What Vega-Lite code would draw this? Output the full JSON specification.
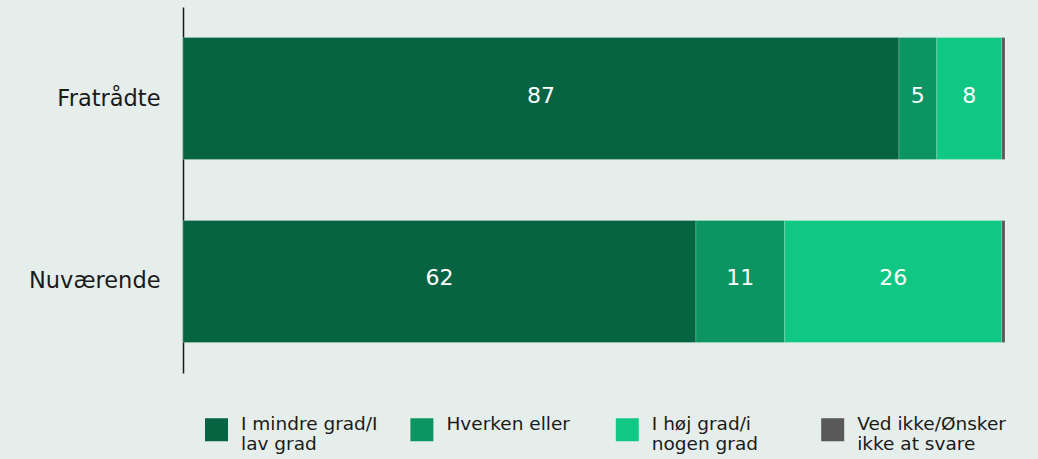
{
  "$schema": "https://vega.github.io/schema/vega-lite/v6.json",
  "width": 822,
  "height": 366,
  "autosize": {"type": "none"},
  "padding": {"left": 183, "top": 7, "right": 33, "bottom": 86},
  "background": "#e6eeeb",
  "config": {"view": {"stroke": null}, "font": "DejaVu Sans"},
  "data": {
    "values": [
      {"gruppe": "Fratrådte", "svar": "I mindre grad/I lav grad", "orden": 1, "andel": 87.1},
      {"gruppe": "Fratrådte", "svar": "Hverken eller", "orden": 2, "andel": 4.6},
      {"gruppe": "Fratrådte", "svar": "I høj grad/i nogen grad", "orden": 3, "andel": 7.9},
      {"gruppe": "Fratrådte", "svar": "Ved ikke/Ønsker ikke at svare", "orden": 4, "andel": 0.4},
      {"gruppe": "Nuværende", "svar": "I mindre grad/I lav grad", "orden": 1, "andel": 62.4},
      {"gruppe": "Nuværende", "svar": "Hverken eller", "orden": 2, "andel": 10.8},
      {"gruppe": "Nuværende", "svar": "I høj grad/i nogen grad", "orden": 3, "andel": 26.4},
      {"gruppe": "Nuværende", "svar": "Ved ikke/Ønsker ikke at svare", "orden": 4, "andel": 0.4}
    ]
  },
  "transform": [
    {"stack": "andel", "groupby": ["gruppe"], "sort": [{"field": "orden"}], "as": ["v0", "v1"]},
    {"calculate": "(datum.v0 + datum.v1) / 2", "as": "midt"}
  ],
  "encoding": {
    "y": {
      "field": "gruppe",
      "type": "nominal",
      "sort": ["Fratrådte", "Nuværende"],
      "scale": {"paddingInner": 0.3333, "paddingOuter": 0.1667},
      "axis": {
        "title": null,
        "domainColor": "#1a1a1a",
        "domainWidth": 1.5,
        "ticks": false,
        "labelFontSize": 22.5,
        "labelColor": "#1a1a1a",
        "labelPadding": 23,
        "labelFont": "DejaVu Sans"
      }
    }
  },
  "layer": [
    {
      "mark": {"type": "bar", "stroke": "#ffffff", "strokeWidth": 0.6, "strokeOpacity": 0.35},
      "encoding": {
        "x": {"field": "v0", "type": "quantitative", "scale": {"domain": [0, 100]}, "axis": null},
        "x2": {"field": "v1"},
        "color": {
          "field": "svar",
          "type": "nominal",
          "scale": {
            "domain": ["I mindre grad/I lav grad", "Hverken eller", "I høj grad/i nogen grad", "Ved ikke/Ønsker ikke at svare"],
            "range": ["#066443", "#0c9462", "#10c884", "#595959"]
          },
          "legend": {
            "title": null,
            "orient": "none",
            "legendX": 22,
            "legendY": 411,
            "direction": "horizontal",
            "columns": 4,
            "gridAlign": "all",
            "columnPadding": 20.4,
            "symbolType": "square",
            "symbolSize": 529,
            "symbolStrokeWidth": 0,
            "symbolOpacity": 1,
            "labelFontSize": 18.5,
            "labelFont": "DejaVu Sans",
            "labelColor": "#1a1a1a",
            "labelOffset": 13,
            "labelBaseline": "alphabetic",
            "labelLineHeight": 21.5,
            "labelLimit": 300,
            "labelExpr": "{'I mindre grad/I lav grad': ['I mindre grad/I', 'lav grad'], 'Hverken eller': ['Hverken eller', ' '], 'I høj grad/i nogen grad': ['I høj grad/i', 'nogen grad'], 'Ved ikke/Ønsker ikke at svare': ['Ved ikke/Ønsker', 'ikke at svare']}[datum.label]"
          }
        }
      }
    },
    {
      "transform": [{"filter": "datum.orden < 4"}],
      "mark": {"type": "text", "color": "#ffffff", "fontSize": 22, "font": "DejaVu Sans", "align": "center", "baseline": "middle", "dy": -3},
      "encoding": {
        "x": {"field": "midt", "type": "quantitative"},
        "text": {"field": "andel", "type": "quantitative", "format": ".0f"}
      }
    }
  ]
}
